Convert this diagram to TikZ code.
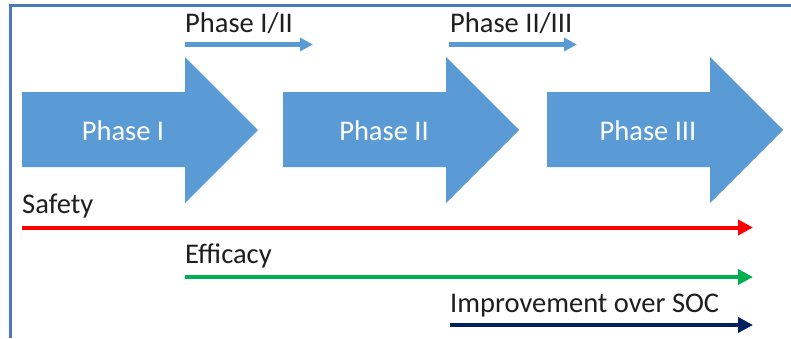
\documentclass[tikz,border=0pt]{standalone}
\usepackage{fontspec}
\setmainfont{Carlito}
\usetikzlibrary{arrows.meta}
\definecolor{phaseblue}{HTML}{5B9BD5}
\definecolor{frameblue}{HTML}{4A78BE}
\definecolor{safered}{HTML}{FF0000}
\definecolor{effgreen}{HTML}{00B050}
\definecolor{socnavy}{HTML}{002060}
\definecolor{labeltext}{HTML}{1E1E1E}
\tikzset{
  bigphase/.style={fill=phaseblue, draw=none},
  phasetext/.style={text=white, font=\fontsize{28.5}{28.5}\selectfont, inner sep=0pt, anchor=base},
  lbl/.style={text=labeltext, font=\fontsize{28.5}{28.5}\selectfont, inner sep=0pt, anchor=base west},
  smallarrow/.style={draw=phaseblue, line width=4.5pt, -{Triangle[length=13pt,width=13pt]}},
  trackline/.style={line width=4pt, -{Triangle[length=15pt,width=15pt]}},
}
\newcommand{\phasearrow}[3]{%
  \fill[bigphase] (#1,92) -- (#1+163,92) -- (#1+163,57) -- (#1+236,130)
     -- (#1+163,203) -- (#1+163,167) -- (#1,167) -- cycle;
  \node[phasetext] (#2) at (#1+101,140) {#3};
}
\begin{document}
\begin{tikzpicture}[x=1pt,y=-1pt]
  \useasboundingbox (0,0) rectangle (791,338);
  \fill[white] (0,0) rectangle (791,338);
  % frame (cut off at right and bottom)
  \draw[frameblue, line width=3pt] (10,338) -- (10,5) -- (791,5);
  % big phase arrows
  \phasearrow{22}{p1}{Phase I}
  \phasearrow{283}{p2}{Phase II}
  \phasearrow{547}{p3}{Phase III}
  % small transition arrows
  \node[lbl] (t12) at (185,32) {Phase I/II};
  \coordinate (t12s) at (185,44.5);
  \coordinate (t12e) at (313,44.5);
  \draw[smallarrow] (t12s) -- (t12e);
  \node[lbl] (t23) at (450,32) {Phase II/III};
  \coordinate (t23s) at (449,44.5);
  \coordinate (t23e) at (577,44.5);
  \draw[smallarrow] (t23s) -- (t23e);
  % tracks
  \node[lbl] (saf) at (22,213) {Safety};
  \coordinate (safs) at (22,227.5);
  \coordinate (safe) at (753,227.5);
  \draw[trackline, safered] (safs) -- (safe);
  \node[lbl] (eff) at (185,263) {Efficacy};
  \coordinate (effs) at (185,277);
  \coordinate (effe) at (753,277);
  \draw[trackline, effgreen] (effs) -- (effe);
  \node[lbl] (soc) at (450,312) {Improvement over SOC};
  \coordinate (socs) at (450,325);
  \coordinate (soce) at (753,325);
  \draw[trackline, socnavy] (socs) -- (soce);
\end{tikzpicture}
\end{document}
